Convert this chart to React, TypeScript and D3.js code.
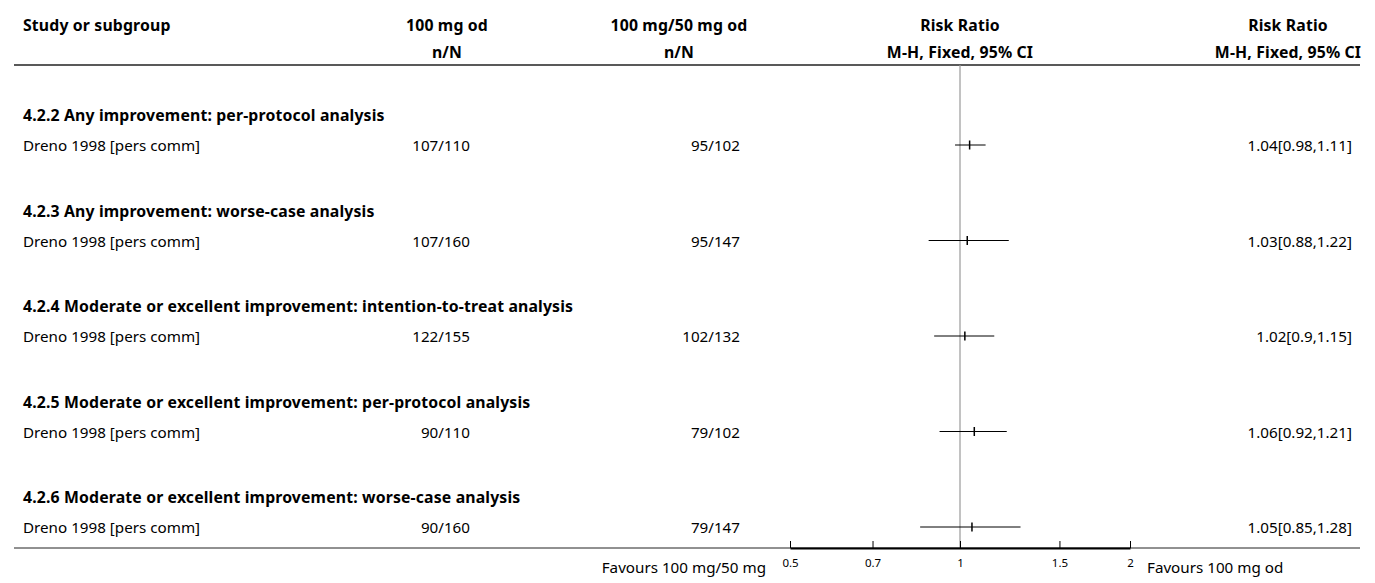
import React, { useRef, useEffect } from 'react';
import * as d3 from 'd3';

// subgroup headings and the single study in each
const subgroups = [
  '4.2.2 Any improvement: per-protocol analysis',
  '4.2.3 Any improvement: worse-case analysis',
  '4.2.4 Moderate or excellent improvement: intention-to-treat analysis',
  '4.2.5 Moderate or excellent improvement: per-protocol analysis',
  '4.2.6 Moderate or excellent improvement: worse-case analysis',
];
const studies = [
  'Dreno 1998 [pers comm]',
  'Dreno 1998 [pers comm]',
  'Dreno 1998 [pers comm]',
  'Dreno 1998 [pers comm]',
  'Dreno 1998 [pers comm]',
];
const events1 = [107, 107, 122, 90, 90];
const total1 = [110, 160, 155, 110, 160];
const events2 = [95, 95, 102, 79, 79];
const total2 = [102, 147, 132, 102, 147];
const rr = [1.04, 1.03, 1.02, 1.06, 1.05];
const lower = [0.98, 0.88, 0.9, 0.92, 0.85];
const upper = [1.11, 1.22, 1.15, 1.21, 1.28];
const axisTicks = [0.5, 0.7, 1, 1.5, 2];

const App = () => {
  const ref = useRef(null);

  useEffect(() => {
    document.body.style.margin = '0';
    const svg = d3.select(ref.current);
    svg.selectAll('*').remove();

    const font = '"Noto Sans", sans-serif';
    const x = d3.scaleLog().domain([0.5, 2]).range([790, 1130]);
    const yHead = d3.scalePoint().domain(d3.range(subgroups.length).map(String)).range([115, 497]);
    const rowGap = 30;
    const left = 14, right = 1360;
    const col1 = 447, col2 = 679, col4 = 1288;
    const val1 = 470, val2 = 740, val4 = 1352;

    const text = (tx, ty, s, anchor = 'start', bold = false, size = 15.2) =>
      svg.append('text')
        .attr('x', tx).attr('y', ty)
        .attr('text-anchor', anchor)
        .attr('dominant-baseline', 'central')
        .attr('font-family', font)
        .attr('font-size', bold ? 15.8 : size)
        .attr('font-weight', bold ? 700 : 400)
        .attr('letter-spacing', bold ? 0.15 : 0)
        .attr('fill', '#000')
        .text(s);

    // header
    text(23, 25, 'Study or subgroup', 'start', true);
    text(col1, 25, '100 mg od', 'middle', true);
    text(col1, 52, 'n/N', 'middle', true);
    text(col2, 25, '100 mg/50 mg od', 'middle', true);
    text(col2, 52, 'n/N', 'middle', true);
    text(x(1), 25, 'Risk Ratio', 'middle', true);
    text(x(1), 52, 'M-H, Fixed, 95% CI', 'middle', true);
    text(col4, 25, 'Risk Ratio', 'middle', true);
    text(col4, 52, 'M-H, Fixed, 95% CI', 'middle', true);

    svg.append('line')
      .attr('x1', left).attr('x2', right).attr('y1', 65).attr('y2', 65)
      .attr('stroke', '#222').attr('stroke-width', 1.5);

    const axisY = 548;

    // line of no effect
    svg.append('line')
      .attr('x1', x(1)).attr('x2', x(1)).attr('y1', 65).attr('y2', axisY)
      .attr('stroke', '#999').attr('stroke-width', 1.2);

    subgroups.forEach((g, i) => {
      const hy = yHead(String(i));
      const ry = hy + rowGap;
      text(23, hy, g, 'start', true);
      text(23, ry, studies[i]);
      text(val1, ry, `${events1[i]}/${total1[i]}`, 'end');
      text(val2, ry, `${events2[i]}/${total2[i]}`, 'end');
      text(val4, ry, `${rr[i]}[${lower[i]},${upper[i]}]`, 'end');

      svg.append('line')
        .attr('x1', x(lower[i])).attr('x2', x(upper[i]))
        .attr('y1', ry).attr('y2', ry)
        .attr('stroke', '#000').attr('stroke-width', 1);
      svg.append('line')
        .attr('x1', x(rr[i])).attr('x2', x(rr[i]))
        .attr('y1', ry - 4.5).attr('y2', ry + 4.5)
        .attr('stroke', '#000').attr('stroke-width', 1.5);
    });

    // bottom rule and axis
    svg.append('line')
      .attr('x1', left).attr('x2', right).attr('y1', axisY).attr('y2', axisY)
      .attr('stroke', '#222').attr('stroke-width', 1);

    const axis = svg.append('g')
      .attr('transform', `translate(0,${axisY})`)
      .call(d3.axisTop(x).tickValues(axisTicks).tickFormat(d3.format('')).tickSize(7).tickSizeOuter(0));
    axis.select('.domain').attr('stroke', '#000').attr('stroke-width', 2);
    axis.selectAll('.tick line').attr('stroke', '#000');
    axis.selectAll('.tick text')
      .attr('y', 14)
      .attr('dy', 0)
      .attr('dominant-baseline', 'central')
      .attr('font-family', font)
      .attr('font-size', 11.5)
      .attr('fill', '#000');

    text(766, 567, 'Favours 100 mg/50 mg', 'end');
    text(1147, 567, 'Favours 100 mg od', 'start');
  }, []);

  return <svg ref={ref} width={1375} height={583} style={{ display: 'block', background: '#fff' }}></svg>;
};

export default App;
